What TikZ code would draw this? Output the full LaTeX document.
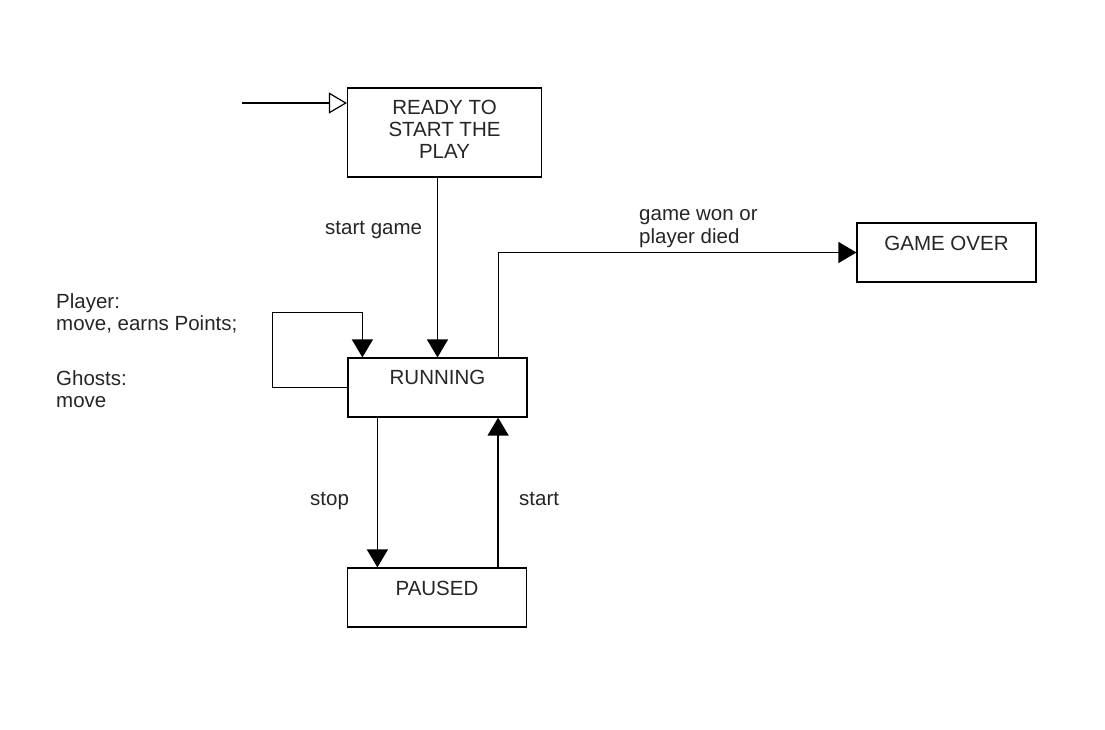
\documentclass[tikz,border=0pt]{standalone}
\usepackage{fontspec}
\setmainfont{Liberation Sans}
\usetikzlibrary{arrows.meta}
\begin{document}
\begin{tikzpicture}[x=1pt,y=-1pt,
  every node/.style={font=\fontsize{20.5}{22}\selectfont, text=black!85, inner sep=0pt},
  statebox/.style={draw=black, line width=1.2pt, rectangle, minimum width=179pt},
  arr/.style={draw=black, line width=1.3pt, -{Triangle[length=18pt,width=21pt]}},
  initarr/.style={draw=black, line width=1.3pt, -{Triangle[open,length=18pt,width=21pt,line width=1.2pt]}},
  lbl/.style={anchor=base west, align=left}]
\useasboundingbox[fill=white] (0,0) rectangle (1105,730);

% states
\node[statebox, minimum width=194pt, minimum height=89pt] (ready) at (444.5,132.5) {};
\node[anchor=north, align=center] (readytext) at (444.5,100) {READY TO\\START THE\\PLAY};
\node[statebox, text height=26pt, text depth=33pt] (running) at (437.5,387.5) {RUNNING};
\node[statebox, text height=27pt, text depth=32pt] (paused) at (437,597.5) {PAUSED};
\node[statebox, text height=27pt, text depth=32pt] (gameover) at (946.5,252.5) {GAME OVER};

% initial transition
\coordinate (init) at (242,103);
\draw[initarr] (init) -- (init -| ready.west);

% transitions
\draw[arr] (running.north |- ready.south) -- (running.north);
\draw[arr] (running.west) -- ++(-75,0) -- ++(0,-75) -- ++(90,0) -- ([xshift=15pt]running.north west);
\draw[arr] ([xshift=-29pt]running.north east) |- (gameover.west);
\draw[arr] ([xshift=30pt]running.south west) -- ([xshift=30pt]running.south west |- paused.north);
\draw[arr] ([xshift=-29pt]paused.north east) -- ([xshift=-29pt]paused.north east |- running.south);

% transition labels (base anchor sits on the last line)
\node[lbl] (lstartgame) at (325,234) {start game};
\node[lbl] (lwon) at (639,243) {game won or\\player died};
\node[lbl] (lloop) at (56,407) {Player:\\move, earns Points;\\[33pt]Ghosts:\\move};
\node[lbl] (lstop) at (310,505) {stop};
\node[lbl] (lstart) at (519,505) {start};
\end{tikzpicture}
\end{document}
